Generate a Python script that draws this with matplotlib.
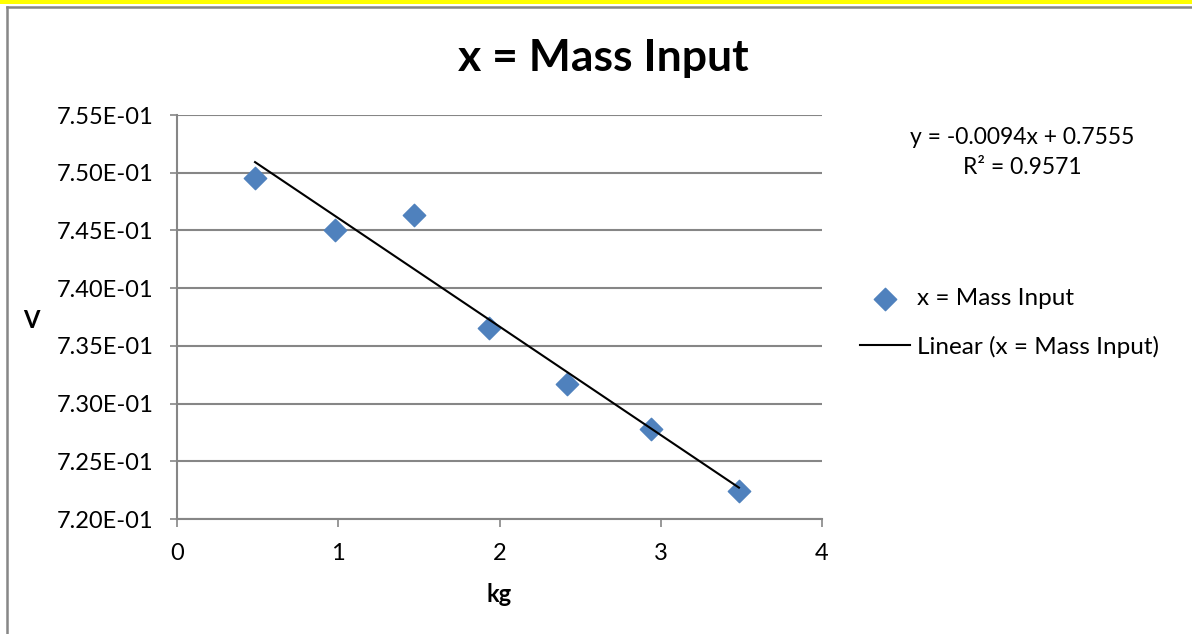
import numpy as np
import matplotlib.pyplot as plt
from matplotlib.lines import Line2D
from matplotlib.patches import Rectangle

# data
mass_kg = [0.484, 0.980, 1.470, 1.935, 2.419, 2.940, 3.485]
volts = [0.74954, 0.74504, 0.74634, 0.73655, 0.73170, 0.72780, 0.72243]
y_ticks = [0.720, 0.725, 0.730, 0.735, 0.740, 0.745, 0.750, 0.755]
x_ticks = [0, 1, 2, 3, 4]

plt.rcParams['font.family'] = ['Lato', 'DejaVu Sans']

W, H = 1192, 634
fig = plt.figure(figsize=(W / 100, H / 100), dpi=100)

# outer frame: yellow strip at top, grey chart border
fig.patches.append(Rectangle((0, (H - 3.5) / H), 1, 3.5 / H, transform=fig.transFigure,
                             facecolor='#ffff00', edgecolor='none'))
fig.add_artist(Line2D([6.5 / W, 1], [(H - 6.5) / H] * 2, color='#878787', lw=1.8))
fig.add_artist(Line2D([6.5 / W] * 2, [0, (H - 6.5) / H], color='#878787', lw=1.8))

ax = fig.add_axes([177 / W, (H - 519) / H, 645 / W, 404 / H])

gray = '#868686'
ax.set_xlim(0, 4)
ax.set_ylim(0.720, 0.755)
ax.set_xticks(x_ticks)
ax.set_yticks(y_ticks)
ax.set_yticklabels(['%.2E' % v for v in y_ticks])
ax.grid(axis='y', color=gray, lw=1.5)
ax.set_axisbelow(True)
for s in ['top', 'right']:
    ax.spines[s].set_visible(False)
for s in ['left', 'bottom']:
    ax.spines[s].set_color(gray)
    ax.spines[s].set_linewidth(1.5)
ax.tick_params(axis='x', direction='out', length=6, width=1.2, color=gray, labelsize=17, pad=11)
ax.tick_params(axis='y', direction='out', length=5, width=1.2, color=gray, labelsize=17, pad=12)

ax.scatter(mass_kg, volts, marker='D', s=130, color='#4f81bd', zorder=3,
           label='x = Mass Input', clip_on=False)

# linear trendline
slope, inter = np.polyfit(mass_kg, volts, 1)
xs = np.array([min(mass_kg), max(mass_kg)])
ax.plot(xs, slope * xs + inter, color='black', lw=1.5, zorder=4,
        label='Linear (x = Mass Input)')

fig.text(499 / W, 1 - 595 / H, 'kg', fontsize=17, fontweight='bold', ha='center', va='center')
fig.text(31 / W, 1 - 320 / H, 'V', fontsize=17, fontweight='bold', ha='center', va='center')
fig.text(603 / W, 1 - 58 / H, 'x = Mass Input', fontsize=32, fontweight='bold',
         ha='center', va='center')

fig.text(1022 / W, 1 - 138 / H, 'y = -0.0094x + 0.7555', fontsize=16.5, ha='center', va='center')
fig.text(1022 / W, 1 - 167 / H, 'R² = 0.9571', fontsize=16.5, ha='center', va='center')

ax.legend(loc='upper left', bbox_to_anchor=(860 / W, 1 - 288 / H), bbox_transform=fig.transFigure,
          frameon=False, fontsize=17.5, handlelength=2.05, handletextpad=0.3, labelspacing=1.1,
          borderpad=0, borderaxespad=0)

plt.savefig('out.png', dpi=100)
